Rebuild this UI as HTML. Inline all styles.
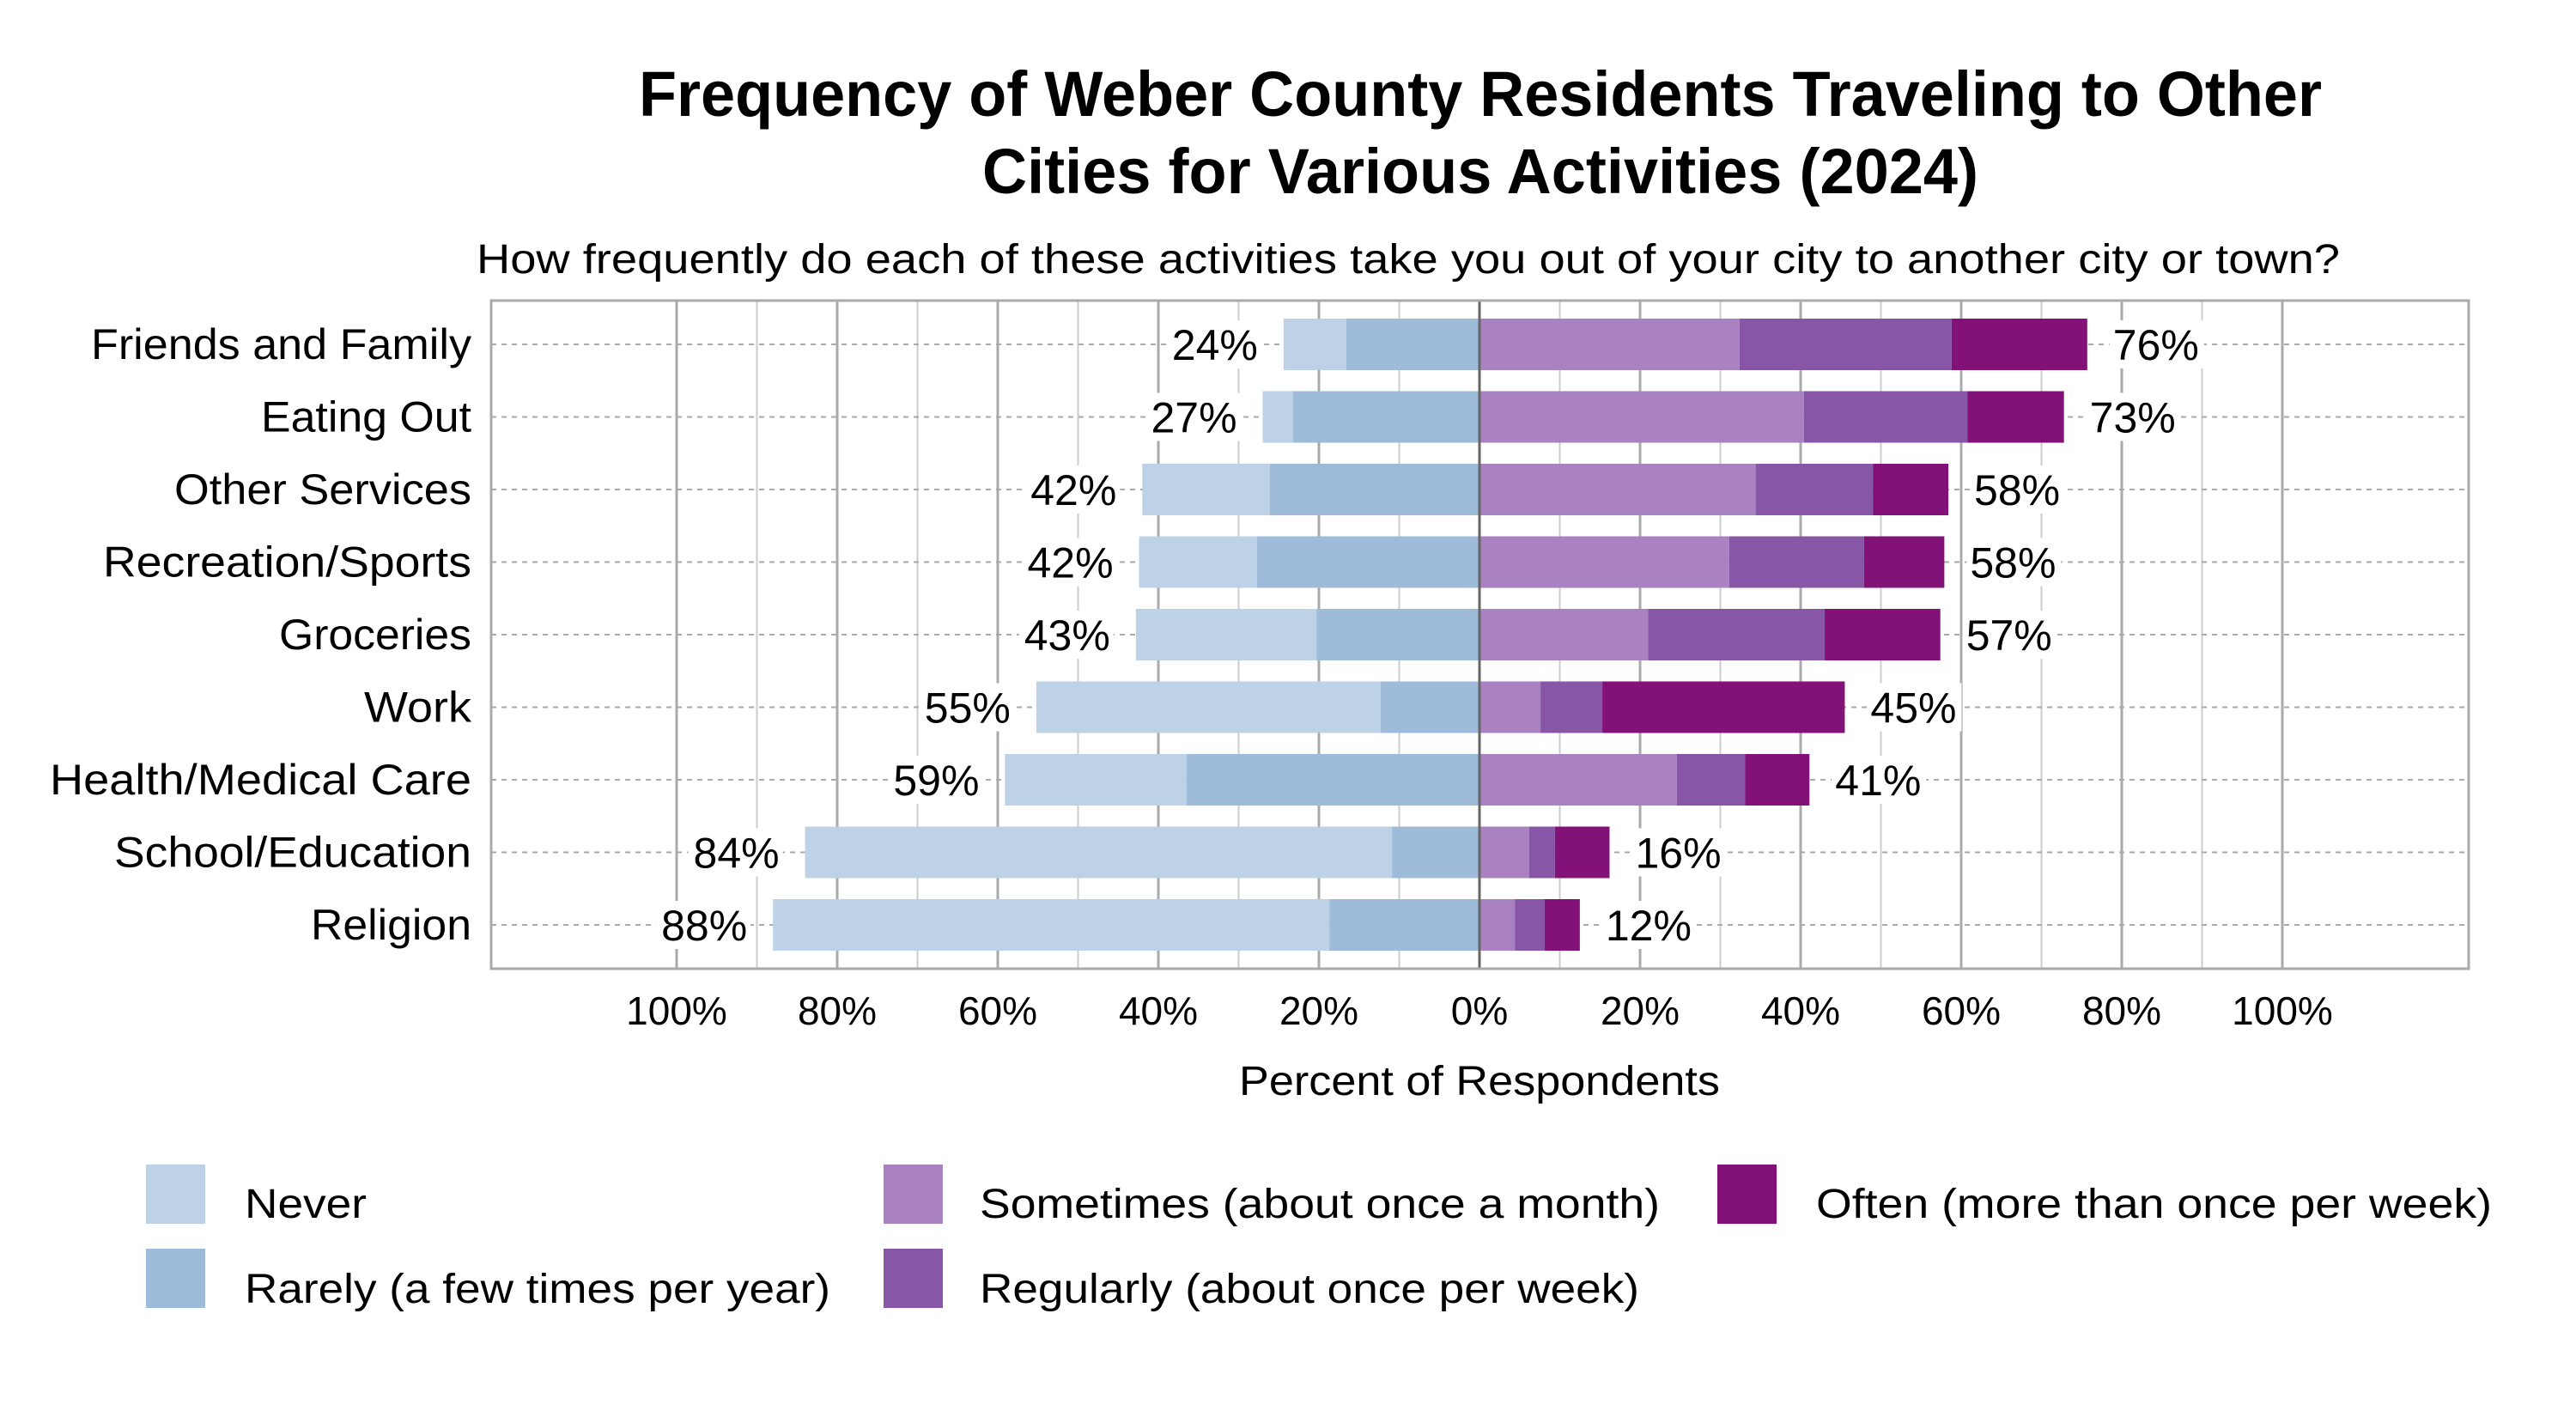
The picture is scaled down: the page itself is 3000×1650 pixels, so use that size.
<!DOCTYPE html>
<html><head><meta charset="utf-8"><style>html,body{margin:0;padding:0;background:#fff}svg{display:block}</style></head>
<body>
<svg width="3000" height="1650" viewBox="0 0 3000 1650" xmlns="http://www.w3.org/2000/svg" font-family="'Liberation Sans', sans-serif">
<rect width="3000" height="1650" fill="#fff"/>
<text x="1724" y="135" font-size="74" font-weight="bold" text-anchor="middle" textLength="1960" lengthAdjust="spacingAndGlyphs">Frequency of Weber County Residents Traveling to Other</text>
<text x="1724" y="225" font-size="74" font-weight="bold" text-anchor="middle" textLength="1160" lengthAdjust="spacingAndGlyphs">Cities for Various Activities (2024)</text>
<text x="1640" y="318" font-size="48" text-anchor="middle" textLength="2170" lengthAdjust="spacingAndGlyphs">How frequently do each of these activities take you out of your city to another city or town?</text>
<g id="grid"></g>
<g id="plot"></g>
<text x="1723" y="1275" font-size="48" text-anchor="middle" textLength="560" lengthAdjust="spacingAndGlyphs">Percent of Respondents</text>
<rect x="170" y="1356" width="69" height="69" fill="#bdd2e6"/>
<rect x="170" y="1454" width="69" height="69" fill="#9ebbd9"/>
<rect x="1029" y="1356" width="69" height="69" fill="#aa82c2"/>
<rect x="1029" y="1454" width="69" height="69" fill="#8756a6"/>
<rect x="2000" y="1356" width="69" height="69" fill="#821278"/>
<g font-size="48">
<text x="285" y="1418" textLength="142" lengthAdjust="spacingAndGlyphs">Never</text>
<text x="285" y="1517" textLength="682" lengthAdjust="spacingAndGlyphs">Rarely (a few times per year)</text>
<text x="1141" y="1418" textLength="792" lengthAdjust="spacingAndGlyphs">Sometimes (about once a month)</text>
<text x="1141" y="1517" textLength="768" lengthAdjust="spacingAndGlyphs">Regularly (about once per week)</text>
<text x="2115" y="1418" textLength="787" lengthAdjust="spacingAndGlyphs">Often (more than once per week)</text>
</g>
<script>
var Z=1723,S=9.35,top0=350,bot=1128,L=572,R=2875;
var ns='http://www.w3.org/2000/svg';
function el(p,t,a,txt){var e=document.createElementNS(ns,t);for(var k in a)e.setAttribute(k,a[k]);if(txt!=null)e.textContent=txt;p.appendChild(e);return e;}
var g=document.getElementById('grid'),p=document.getElementById('plot');
for(var v=-100;v<=100;v+=10){if(v==0)continue;var x=Z+v*S;var maj=(v%20==0);
el(g,'line',{x1:x,x2:x,y1:top0,y2:bot,stroke:maj?'#aaaaaa':'#cccccc','stroke-width':maj?3:2});}
for(var v=-100;v<=100;v+=20){el(g,'text',{x:Z+v*S,y:1193,'font-size':46,'text-anchor':'middle'},Math.abs(v)+'%');}
var cats=[['Friends and Family',443,24.4,16.6,32.4,58.8,75.7,'24%','76%'],
['Eating Out',245,27,23.2,40.4,60.8,72.8,'27%','73%'],
['Other Services',346,42,26.1,34.4,49.0,58.4,'42%','58%'],
['Recreation/Sports',429,42.4,27.7,31.1,47.9,57.9,'42%','58%'],
['Groceries',224,42.8,20.3,21.0,43.0,57.4,'43%','57%'],
['Work',125,55.2,12.3,7.6,15.3,45.5,'55%','45%'],
['Health/Medical Care',491,59.1,36.5,24.6,33.1,41.1,'59%','41%'],
['School/Education',416,84,10.9,6.2,9.4,16.2,'84%','16%'],
['Religion',187,88,18.7,4.4,8.1,12.5,'88%','12%']];
cats.forEach(function(c,i){var y=401+i*84.5;
el(g,'line',{x1:L,x2:R,y1:y,y2:y,stroke:'#aaaaaa','stroke-width':2,'stroke-dasharray':'6,6'});
el(p,'text',{x:549,y:y+17,'font-size':50,'text-anchor':'end',textLength:c[1],lengthAdjust:'spacingAndGlyphs'},c[0]);
var h=60,y0=y-30;
el(p,'rect',{x:Z-c[2]*S,y:y0,width:(c[2]-c[3])*S,height:h,fill:'#bdd2e6'});
el(p,'rect',{x:Z-c[3]*S,y:y0,width:c[3]*S,height:h,fill:'#9ebbd9'});
el(p,'rect',{x:Z,y:y0,width:c[4]*S,height:h,fill:'#aa82c2'});
el(p,'rect',{x:Z+c[4]*S,y:y0,width:(c[5]-c[4])*S,height:h,fill:'#8756a6'});
el(p,'rect',{x:Z+c[5]*S,y:y0,width:(c[6]-c[5])*S,height:h,fill:'#821278'});
var lx=Z-c[2]*S-30;el(p,'rect',{x:lx-106,y:y-28,width:110,height:56,fill:'#fff'});
el(p,'text',{x:lx,y:y+18,'font-size':50,'text-anchor':'end'},c[7]);
var rx=Z+c[6]*S+30;el(p,'rect',{x:rx-4,y:y-28,width:110,height:56,fill:'#fff'});
el(p,'text',{x:rx,y:y+18,'font-size':50},c[8]);
});
el(p,'line',{x1:Z,x2:Z,y1:top0,y2:bot,stroke:'#666','stroke-width':3});
el(p,'rect',{x:L,y:top0,width:R-L,height:bot-top0,fill:'none',stroke:'#aaaaaa','stroke-width':3});
</script>
</svg>
</body></html>
